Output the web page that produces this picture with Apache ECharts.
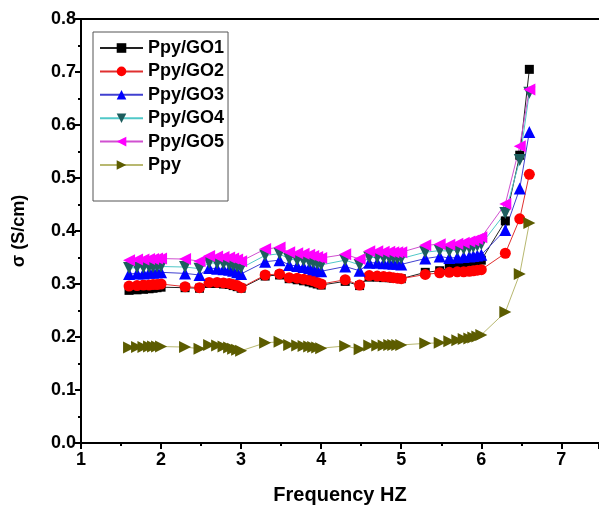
<!DOCTYPE html>
<html lang="en">
<head>
    <meta charset="UTF-8">
    <title>Conductivity vs frequency</title>
    <script src="https://cdn.jsdelivr.net/npm/echarts@6/dist/echarts.min.js"></script>
    <style>
        html, body { margin: 0; padding: 0; background: #fff; }
    </style>
</head>
<body>
    <div id="myChart" style="width: 599px;height:511px;"></div>

    <script>
        // log10 of frequency (Hz)
        var logFreq = [1.60, 1.70, 1.78, 1.85, 1.90, 1.95, 2.00,
            2.30, 2.48, 2.60, 2.70, 2.78, 2.85, 2.90, 2.95, 3.00,
            3.30, 3.48, 3.60, 3.70, 3.78, 3.85, 3.90, 3.95, 4.00,
            4.30, 4.48, 4.60, 4.70, 4.78, 4.85, 4.90, 4.95, 5.00,
            5.30, 5.48, 5.60, 5.70, 5.78, 5.85, 5.90, 5.95, 6.00,
            6.30, 6.48, 6.60];

        var go1 = [0.288, 0.289, 0.290, 0.291, 0.292, 0.293, 0.294,
            0.293, 0.292, 0.301, 0.301, 0.300, 0.299, 0.297, 0.295, 0.292,
            0.315, 0.317, 0.310, 0.308, 0.306, 0.304, 0.302, 0.300, 0.298,
            0.305, 0.297, 0.313, 0.313, 0.312, 0.312, 0.311, 0.311, 0.310,
            0.322, 0.325, 0.330, 0.333, 0.335, 0.337, 0.340, 0.342, 0.345,
            0.419, 0.543, 0.705];

        var go2 = [0.296, 0.297, 0.298, 0.298, 0.299, 0.299, 0.300,
            0.295, 0.293, 0.303, 0.303, 0.302, 0.301, 0.299, 0.297, 0.293,
            0.317, 0.319, 0.312, 0.311, 0.309, 0.308, 0.306, 0.303, 0.300,
            0.308, 0.298, 0.316, 0.315, 0.314, 0.313, 0.312, 0.311, 0.310,
            0.318, 0.321, 0.322, 0.323, 0.323, 0.324, 0.325, 0.326, 0.327,
            0.358, 0.423, 0.507];

        var go3 = [0.319, 0.320, 0.320, 0.321, 0.321, 0.322, 0.322,
            0.320, 0.317, 0.330, 0.329, 0.328, 0.327, 0.325, 0.322, 0.319,
            0.342, 0.345, 0.336, 0.334, 0.332, 0.330, 0.328, 0.326, 0.324,
            0.333, 0.325, 0.340, 0.340, 0.339, 0.339, 0.338, 0.338, 0.337,
            0.348, 0.352, 0.349, 0.350, 0.351, 0.352, 0.353, 0.354, 0.355,
            0.402, 0.480, 0.587];

        var go4 = [0.330, 0.331, 0.331, 0.332, 0.332, 0.333, 0.333,
            0.332, 0.329, 0.340, 0.339, 0.338, 0.337, 0.335, 0.333, 0.330,
            0.354, 0.357, 0.347, 0.345, 0.344, 0.342, 0.340, 0.338, 0.336,
            0.345, 0.336, 0.350, 0.350, 0.349, 0.349, 0.349, 0.348, 0.348,
            0.360, 0.363, 0.362, 0.364, 0.366, 0.368, 0.370, 0.372, 0.375,
            0.434, 0.534, 0.661];

        var go5 = [0.345, 0.346, 0.346, 0.347, 0.347, 0.348, 0.348,
            0.347, 0.343, 0.353, 0.352, 0.351, 0.350, 0.348, 0.346, 0.343,
            0.366, 0.369, 0.360, 0.358, 0.357, 0.355, 0.353, 0.351, 0.349,
            0.356, 0.347, 0.362, 0.362, 0.361, 0.361, 0.360, 0.360, 0.360,
            0.373, 0.375, 0.374, 0.376, 0.378, 0.380, 0.382, 0.385, 0.388,
            0.451, 0.560, 0.667];

        var ppy = [0.180, 0.181, 0.181, 0.182, 0.182, 0.182, 0.182,
            0.181, 0.178, 0.185, 0.184, 0.182, 0.180, 0.178, 0.176, 0.174,
            0.189, 0.191, 0.185, 0.184, 0.183, 0.182, 0.181, 0.180, 0.179,
            0.183, 0.177, 0.184, 0.184, 0.184, 0.185, 0.185, 0.185, 0.185,
            0.188, 0.189, 0.192, 0.194, 0.196, 0.197, 0.199, 0.201, 0.204,
            0.247, 0.319, 0.415];

        var names = ['Ppy/GO1', 'Ppy/GO2', 'Ppy/GO3', 'Ppy/GO4', 'Ppy/GO5', 'Ppy'];

        var font = 'Liberation Sans, Arial, sans-serif';

        function pairs(ys) {
            return logFreq.map(function (x, i) { return [x, ys[i]]; });
        }

        function makeSeries(name, ys, symbol, size, rotate, markColor, lineColor) {
            return {
                name: name,
                type: 'line',
                data: pairs(ys),
                symbol: symbol,
                symbolSize: size,
                symbolRotate: rotate,
                itemStyle: {color: markColor, borderColor: markColor, borderWidth: 0},
                lineStyle: {color: lineColor, width: 1},
                emphasis: {disabled: true},
                animation: false
            };
        }

        var myChart = echarts.init(document.getElementById('myChart'));
        var option = {
            backgroundColor: '#fff',
            textStyle: {fontFamily: font},
            grid: {left: 81, right: 0, top: 19, bottom: 68},
            legend: {
                data: names,
                orient: 'vertical',
                left: 93,
                top: 32,
                itemWidth: 43,
                itemHeight: 12,
                itemGap: 5.4,
                padding: [7, 4, 27, 6],
                borderColor: '#555',
                borderWidth: 1,
                textStyle: {fontFamily: font, fontSize: 18, fontWeight: 'bold', color: '#000', lineHeight: 18}
            },
            xAxis: [{
                type: 'value',
                min: 1,
                max: 7.47,
                interval: 1,
                name: 'Frequency HZ',
                nameLocation: 'middle',
                nameGap: 42,
                nameTextStyle: {fontFamily: font, fontSize: 20, fontWeight: 'bold', color: '#000'},
                splitLine: {show: false},
                axisLine: {lineStyle: {color: '#000', width: 2}},
                axisTick: {length: 6, lineStyle: {width: 2, color: '#000'}},
                minorTick: {show: true, splitNumber: 2, length: 3, lineStyle: {width: 2, color: '#000'}},
                axisLabel: {
                    fontSize: 18, fontWeight: 'bold', color: '#000', margin: 8,
                    showMaxLabel: false,
                    formatter: function (v) { return Number.isInteger(v) ? String(v) : ''; }
                }
            }, {
                type: 'value',
                position: 'top',
                min: 1,
                max: 7.47,
                interval: 1,
                splitLine: {show: false},
                axisLine: {onZero: false, lineStyle: {color: '#000', width: 2}},
                axisTick: {show: false},
                axisLabel: {show: false}
            }],
            yAxis: {
                type: 'value',
                min: 0,
                max: 0.8,
                interval: 0.1,
                name: 'σ (S/cm)',
                nameLocation: 'middle',
                nameGap: 53,
                nameTextStyle: {fontFamily: font, fontSize: 18, fontWeight: 'bold', color: '#000'},
                splitLine: {show: false},
                axisLine: {show: true, lineStyle: {color: '#000', width: 2}},
                axisTick: {show: true, length: 6, lineStyle: {width: 2, color: '#000'}},
                minorTick: {show: true, splitNumber: 2, length: 3, lineStyle: {width: 2, color: '#000'}},
                axisLabel: {
                    fontSize: 18, fontWeight: 'bold', color: '#000', margin: 5,
                    formatter: function (v) { return v.toFixed(1); }
                }
            },
            series: [
                makeSeries(names[0], go1, 'rect', 9, 0, '#000000', '#222222'),
                makeSeries(names[1], go2, 'circle', 11, 0, '#ff0000', '#e03030'),
                makeSeries(names[2], go3, 'triangle', 12, 0, '#0000ff', '#4040d0'),
                makeSeries(names[3], go4, 'triangle', 12, 180, '#1d5e5e', '#50c8c8'),
                makeSeries(names[4], go5, 'triangle', 12, 90, '#ff00ff', '#d050d0'),
                makeSeries(names[5], ppy, 'triangle', 12, -90, '#5c5c00', '#b8b870')
            ]
        };
        myChart.setOption(option);
    </script>
</body>
</html>
